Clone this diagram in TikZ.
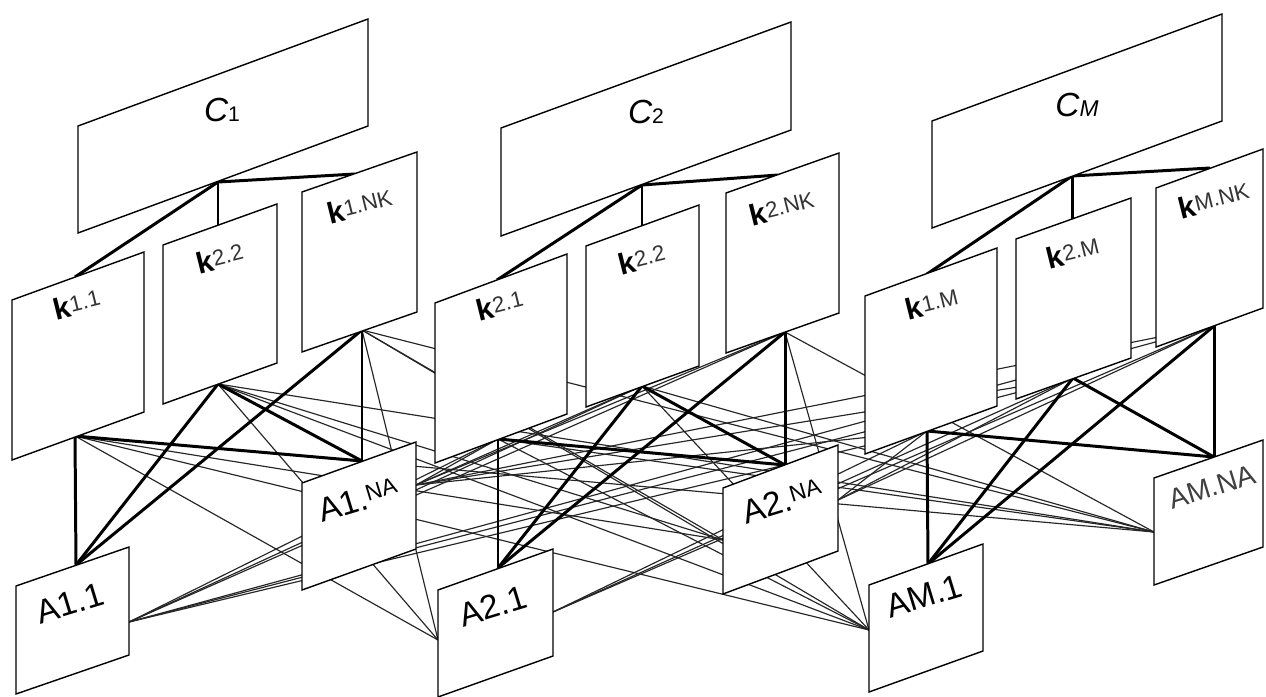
\documentclass[tikz,border=0pt]{standalone}
\usepackage{fontspec}
\setmainfont{Liberation Sans}
\newcommand\defpanel[6]{%
  \coordinate (#1-tl) at (#2,#3);
  \coordinate (#1-tr) at (#4,#5);
  \coordinate (#1-br) at (#4,#5+#6);
  \coordinate (#1-bl) at (#2,#3+#6);}
\newcommand\drawpanel[1]{\path[panel] (#1-tl)--(#1-tr)--(#1-br)--(#1-bl)--cycle;}
\newcommand\bigC[2]{{\fontsize{9.5}{10}\selectfont\itshape C}{\fontsize{6}{6}\selectfont #2}}
\newcommand\klab[1]{{\fontsize{8.5}{9}\selectfont\bfseries k}\raisebox{1.2pt}{\fontsize{6.3}{6.5}\selectfont\color{black!80}#1}}
\begin{document}
\begin{tikzpicture}[x=0.01cm,y=-0.01cm,
  panel/.style={draw=black,fill=white,line width=0.4pt,line join=miter},
  thinlink/.style={line width=0.33pt,black!85},
  thicklink/.style={line width=0.85pt},
  clab/.style={inner sep=0pt},
  lab/.style={inner sep=0pt,rotate=14},
  alab/.style={inner sep=0pt,rotate=17}]
\useasboundingbox[fill=white] (0,0) rectangle (1266,697);

% ---- panels (geometry) ----
\defpanel{C1}{78}{126}{368}{19}{107}
\defpanel{C2}{501}{128}{791}{22}{108}
\defpanel{CM}{932}{121}{1222}{14}{107}
\defpanel{k11}{12}{300}{144}{252}{160}
\defpanel{k22a}{163}{245}{277}{204}{159}
\defpanel{k1NK}{302}{192}{417}{152}{160}
\defpanel{k21}{435}{303}{567}{254}{160}
\defpanel{k22b}{586}{246}{699}{205}{161}
\defpanel{k2NK}{726}{193}{839}{153}{160}
\defpanel{k1M}{865}{296}{997}{248}{158}
\defpanel{k2M}{1016}{239}{1131}{198}{160}
\defpanel{kMNK}{1156}{188}{1263}{149}{159}
\defpanel{A11}{16}{586}{129}{547}{108}
\defpanel{A1NA}{302}{483}{416}{442}{107}
\defpanel{A21}{438}{590}{553}{549}{107}
\defpanel{A2NA}{723}{488}{838}{445}{106}
\defpanel{AM1}{869}{585}{983}{544}{107}
\defpanel{AMNA}{1154}{478}{1263}{440}{107}

% ---- hubs ----
\coordinate (C1h) at (218,182);
\coordinate (C2h) at (642,185);
\coordinate (CMh) at (1072,176);
\coordinate (k11t) at (75,277);
\coordinate (k22at) at (218,225);
\coordinate (k1NKt) at (355,174);
\coordinate (k21t) at (497,280);
\coordinate (k22bt) at (642,226);
\coordinate (k2NKt) at (778,175);
\coordinate (k1Mt) at (927,274);
\coordinate (k2Mt) at (1072,219);
\coordinate (kMNKt) at (1210,168);
\coordinate (P1) at (75,436);
\coordinate (Q1) at (218,384);
\coordinate (R1) at (362,330);
\coordinate (P2) at (498,439);
\coordinate (Q2) at (642,386);
\coordinate (R2) at (785,332);
\coordinate (P3) at (927,431);
\coordinate (Q3) at (1073,378);
\coordinate (R3) at (1214,326);
\coordinate (A11t) at (76,565);
\coordinate (A1NAt) at (362,461);
\coordinate (A21t) at (498,568);
\coordinate (A2NAt) at (785,465);
\coordinate (AM1t) at (928,564);
\coordinate (AMNAt) at (1214,457);
\coordinate (X11) at (129,622);
\coordinate (X1N) at (416,485);
\coordinate (L21) at (438,640);
\coordinate (R21) at (553,612);
\coordinate (L2N) at (723,540);
\coordinate (R2N) at (838,500);
\coordinate (LM1) at (869,630);
\coordinate (LMN) at (1154,532);

% ---- cross-group links (thin) ----
\foreach \s in {P1,Q1,R1}{
  \foreach \t in {L21,L2N,LM1,LMN}{
    \draw[thinlink] (\s) -- (\t);}}
\foreach \s in {P2,Q2,R2}{
  \foreach \t in {X11,X1N,LM1,LMN}{
    \draw[thinlink] (\s) -- (\t);}}
\foreach \s in {P3,Q3,R3}{
  \foreach \t in {X11,X1N,R21,R2N}{
    \draw[thinlink] (\s) -- (\t);}}

% ---- within-group links (thick) ----
\foreach \c/\a/\b/\d in {C1h/k11t/k22at/k1NKt, C2h/k21t/k22bt/k2NKt, CMh/k1Mt/k2Mt/kMNKt}{
  \draw[thicklink] (\c) -- (\a);
  \draw[thicklink] (\c) -- (\b);
  \draw[thicklink] (\c) -- (\d);}
\foreach \p/\q/\r/\u/\v in {P1/Q1/R1/A11t/A1NAt, P2/Q2/R2/A21t/A2NAt, P3/Q3/R3/AM1t/AMNAt}{
  \draw[thicklink] (\p) -- (\u);
  \draw[thicklink] (\q) -- (\u);
  \draw[thicklink] (\r) -- (\u);
  \draw[thicklink] (\p) -- (\v);
  \draw[thicklink] (\q) -- (\v);
  \draw[thicklink] (\r) -- (\v);}

% ---- panels drawn on top ----
\foreach \n in {C1,C2,CM,k11,k22a,k1NK,k21,k22b,k2NK,k1M,k2M,kMNK,A11,A1NA,A21,A2NA,AM1,AMNA}{
  \drawpanel{\n}}

% ---- labels ----
\node[clab] (tC1) at (222,110) {\bigC{}{1}};
\node[clab] (tC2) at (646,112) {\bigC{}{2}};
\node[clab] (tCM) at (1077,105) {{\fontsize{9.5}{10}\selectfont\itshape C}{\fontsize{6.5}{6.5}\selectfont\itshape M}};
\node[lab] (tk11) at (77,304) {\klab{1.1}};
\node[lab] (tk22a) at (220,258) {\klab{2.2}};
\node[lab] (tk1NK) at (360,206) {\klab{1.NK}};
\node[lab] (tk21) at (500,305) {\klab{2.1}};
\node[lab] (tk22b) at (642,259) {\klab{2.2}};
\node[lab] (tk2NK) at (782,208) {\klab{2.NK}};
\node[lab] (tk1M) at (932,304) {\klab{1.M}};
\node[lab] (tk2M) at (1073,253) {\klab{2.M}};
\node[lab] (tkMNK) at (1214,200) {\klab{M.NK}};
\node[alab] (tA11) at (70,603) {\fontsize{9.5}{10}\selectfont A1.1};
\node[alab] (tA1NA) at (358,500) {{\fontsize{9.5}{10}\selectfont A1.}\raisebox{2pt}{\fontsize{6.5}{6.5}\selectfont NA}};
\node[alab] (tA21) at (493,606) {\fontsize{9.5}{10}\selectfont A2.1};
\node[alab] (tA2NA) at (782,501) {{\fontsize{9.5}{10}\selectfont A2.}\raisebox{2pt}{\fontsize{6.5}{6.5}\selectfont NA}};
\node[alab] (tAM1) at (924,596) {\fontsize{9.5}{10}\selectfont AM.1};
\node[alab,text=black!75] (tAMNA) at (1212,487) {\fontsize{8}{8.5}\selectfont AM.NA};
\end{tikzpicture}
\end{document}
